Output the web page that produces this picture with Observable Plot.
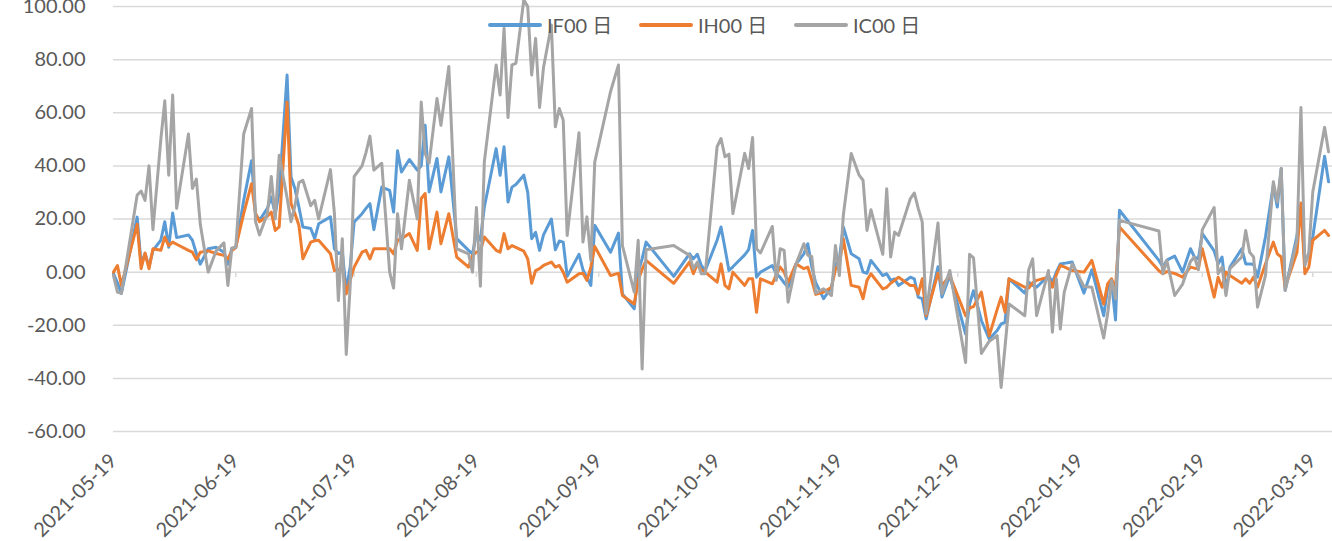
<!DOCTYPE html>
<html><head><meta charset="utf-8">
<script src="https://cdn.jsdelivr.net/npm/d3@7"></script>
<script src="https://cdn.jsdelivr.net/npm/@observablehq/plot@0.6"></script>
<style>
body{margin:0;background:#fff;}
#wrap{position:relative;width:1332px;height:541px;overflow:hidden;}
#legend{position:absolute;top:12px;left:488px;display:flex;font-family:Lato,"Noto Sans CJK SC",sans-serif;font-size:20px;color:#595959;line-height:26px;white-space:nowrap;}
.item{display:flex;align-items:center;}
.sw{width:54px;height:4px;border-radius:2px;margin-right:5px;}
</style></head><body><div id="wrap"></div>
<script>
const dates = [
"2021-05-19","2021-05-20","2021-05-21","2021-05-25","2021-05-26","2021-05-27","2021-05-28","2021-05-29","2021-05-31","2021-06-01",
"2021-06-02","2021-06-03","2021-06-04","2021-06-07","2021-06-08","2021-06-09","2021-06-10","2021-06-12","2021-06-14","2021-06-16",
"2021-06-17","2021-06-18","2021-06-19","2021-06-21","2021-06-23","2021-06-24","2021-06-25","2021-06-27","2021-06-28","2021-06-29",
"2021-06-30","2021-07-02","2021-07-03","2021-07-04","2021-07-05","2021-07-06","2021-07-08","2021-07-09","2021-07-10","2021-07-13",
"2021-07-14","2021-07-15","2021-07-16","2021-07-17","2021-07-18","2021-07-19","2021-07-21","2021-07-22","2021-07-23","2021-07-24",
"2021-07-26","2021-07-28","2021-07-29","2021-07-30","2021-07-31","2021-08-02","2021-08-04","2021-08-05","2021-08-06","2021-08-07",
"2021-08-09","2021-08-10","2021-08-12","2021-08-14","2021-08-17","2021-08-18","2021-08-19","2021-08-20","2021-08-21","2021-08-24",
"2021-08-25","2021-08-26","2021-08-27","2021-08-28","2021-08-29","2021-08-31","2021-09-01","2021-09-02","2021-09-03","2021-09-04",
"2021-09-05","2021-09-07","2021-09-08","2021-09-09","2021-09-10","2021-09-11","2021-09-14","2021-09-15","2021-09-16","2021-09-17",
"2021-09-18","2021-09-22","2021-09-24","2021-09-25","2021-09-28","2021-09-29","2021-09-30","2021-10-01","2021-10-08","2021-10-12",
"2021-10-13","2021-10-14","2021-10-15","2021-10-16","2021-10-19","2021-10-20","2021-10-21","2021-10-22","2021-10-23","2021-10-26",
"2021-10-27","2021-10-28","2021-10-29","2021-10-30","2021-11-02","2021-11-03","2021-11-04","2021-11-05","2021-11-06","2021-11-08",
"2021-11-10","2021-11-11","2021-11-12","2021-11-13","2021-11-15","2021-11-17","2021-11-18","2021-11-19","2021-11-20","2021-11-22",
"2021-11-24","2021-11-25","2021-11-26","2021-11-27","2021-11-30","2021-12-01","2021-12-02","2021-12-03","2021-12-04","2021-12-07",
"2021-12-08","2021-12-09","2021-12-10","2021-12-11","2021-12-14","2021-12-15","2021-12-17","2021-12-21","2021-12-22","2021-12-23",
"2021-12-25","2021-12-27","2021-12-29","2021-12-30","2021-12-31","2022-01-01","2022-01-05","2022-01-06","2022-01-07","2022-01-08",
"2022-01-11","2022-01-12","2022-01-13","2022-01-14","2022-01-15","2022-01-17","2022-01-20","2022-01-22","2022-01-25","2022-01-26",
"2022-01-27","2022-01-28","2022-01-29","2022-02-08","2022-02-09","2022-02-10","2022-02-12","2022-02-14","2022-02-16","2022-02-17",
"2022-02-18","2022-02-19","2022-02-22","2022-02-23","2022-02-24","2022-02-25","2022-02-26","2022-03-01","2022-03-02","2022-03-03",
"2022-03-04","2022-03-05","2022-03-07","2022-03-09","2022-03-10","2022-03-11","2022-03-12","2022-03-15","2022-03-16","2022-03-17",
"2022-03-18","2022-03-19","2022-03-22","2022-03-23"];

const if00 = [
-0.6,-4,-8,20.7,3,7,2,8.2,12,19,
9.4,22.3,13,14,12,7,3,8.8,9.4,7.5,
3,9,9.2,27,41.9,22,19.5,24,28.3,22,
30,74.2,35.8,31.4,24.5,17,16.4,12.6,18.2,20.8,
8.8,7,7.5,-6.9,2,18.9,22,24,25.8,16,
32,30.8,22.6,45.7,37.7,42.4,38.4,40,55.3,30.2,
42.8,30.2,43.4,12.6,8.2,6.9,14.5,12,24.5,46.5,
36.5,47.2,26.4,32,33,36.5,30,12.6,15,8.2,
14,20,8.4,11.7,11.3,-1.6,6.7,0.9,-2,-5,
17.6,7.5,14.7,-8.2,-13.8,0,5,11.3,-1.6,6.9,
5,6.7,2.5,0.6,12,17,9,0.6,2,6.5,
8.5,15.7,-1.9,0,2.5,-0.6,-2,-4,-5.7,3,
6.9,10.7,2,-4,-10,-5.7,3,5,17,6.9,
5,0,-0.4,4.4,-1.3,-0.6,-3.1,-2.5,-5,-1.9,
-2.5,-9.4,-10,-17.6,2,-9.4,-1.3,-23.3,-12,-7,
-18.2,-25.2,-22,-19.5,-18.9,-2.5,-7.9,-3.8,-5,-5.7,
-1.3,-3.8,0,3.1,3.3,3.8,-7.9,0.9,-16.4,-6,
-3.8,-18,23.3,4.4,1.9,4.5,6,0,8.8,5.7,
5,14.5,8,3.1,5.7,-6.9,1.9,8.8,3.1,3.1,
3,-1.9,13.2,32.7,24.5,39,-6.9,13.8,25.2,3.1,
6.9,13.2,43.6,34];

const ih00 = [
0,2.5,-5,18,1.3,7.2,1.3,8.8,8.2,13.2,
10,11.3,10.5,8.2,7.5,4.7,7.5,8,7,6.3,
5,8,9.4,22,33.3,22,19,21,22.6,15.7,
17,64,25.8,22,17.6,5,11.3,11.8,12,6.9,
0.6,0.9,1.9,-8.2,-3,1.9,7.5,8.2,5,8.8,
8.8,8.8,6.9,12,12.6,14.5,8.2,27.7,29.6,8.8,
22.6,10.7,22,5.7,1.9,6.3,7.5,8,13.2,8.2,
7.5,14.5,8.8,10,9.3,7.9,5,-4.2,0.6,1.3,
2.5,3.8,1.9,2.5,0,-3.8,-0.6,-0.4,-3.1,1.9,
9.7,-1.3,-0.4,-8.8,-12,-3,1,4.4,-4.2,3.8,
-0.6,3.1,0.9,0,-3.8,3.1,-5,-6.3,0,-5,
-2.5,-2.5,-15.1,-2.5,-4.4,-1,1.9,0,-3.8,3.1,
1.3,1.9,-3,-8.4,-7.5,-5.7,1,3,12.6,-5,
-5.7,-10,-3.1,-0.6,-6.3,-5.7,-4.2,-3.1,-1.9,-5,
-5,-8.2,-2.5,-16.4,-0.4,-5,-1.3,-16.4,-13.5,-13,
-7.5,-23.9,-14,-9.4,-15.1,-2.5,-5.7,-6,-4,-3.1,
-1.9,-5.7,-1,2.5,2,0.6,0,4.4,-12,-4.4,
-2.5,-6,17,0.5,-0.6,0.2,-0.5,-1.9,1.9,1.5,
1.3,8.8,-9.4,-1.9,-5.7,0,-1.3,-4.2,-2.5,-4.2,
-1.9,-5.7,3.1,11.3,6.9,5.7,-5.7,7.5,26,-0.6,
1.9,12,15.7,13.8];

const ic00 = [
-1.3,-7.5,-8,29,30.5,27,40,16,50,64.5,
36.5,66.7,24,52,31.5,35,18,0,8,11,
-5,9,9.4,52,61.6,19,14,22,36,20,
44,28,19,25,33.7,34.6,25,27,20,38.6,
22,-10.7,12.6,-31,-5,36,40,45,51.2,38.4,
41,0,-6,22,8.8,34.6,20,64,44.7,41,
65.4,55.3,77.4,8.8,6.9,0,24.3,-5.3,41.5,78,
66.7,91.8,58.2,78,78.6,102.5,100,74.2,88,62,
77,93,54.7,61.6,57.2,13.8,52.5,11.3,20.8,4.4,
41.5,68,78,10,-7.5,12,-36.5,8.4,10,6.3,
1.3,3.8,-0.6,-0.6,47.2,50.3,43.4,44.4,22,44.7,
39,50.7,8.8,7.2,17.2,-3.1,8.8,8.2,-11.3,3,
10.7,6.3,5.9,-7.9,-6.3,-8.8,10,-1.3,21.4,44.7,
36.5,34.6,15.7,23.5,6.7,31.4,5.7,15.1,13.8,27.7,
29.8,23.9,18.9,-15.7,18.5,-8.2,0.6,-34,6.7,5.4,
-30.6,-26,-23.9,-43.4,-28,-12,-16.4,0.9,5,-16.4,
0.6,-22.6,-2.5,-21.4,-7.5,3.1,-5.4,-5.7,-24.8,-15.7,
-3.1,-10,19.5,15.5,-0.6,4.4,-8.8,-4.5,4,5.7,
0.9,16,24.3,-0.6,1.9,-8.8,1.3,5.7,15.7,7.5,
5.7,-13.2,-1.3,34,26.4,39,-6.9,12,62,2.5,
7.5,30.2,54.5,45.3];

const seriesNames = ["IF00 日","IH00 日","IC00 日"];
const seriesColors = ["#5B9BD5","#ED7D31","#A5A5A5"];
const yTicks = [-60,-40,-20,0,20,40,60,80,100];
const xTickLabels = ["2021-05-19","2021-06-19","2021-07-19","2021-08-19","2021-09-19","2021-10-19","2021-11-19","2021-12-19","2022-01-19","2022-02-19","2022-03-19"];
const xDomain = ["2021-05-19","2022-03-24"];

const parse = d3.utcParse("%Y-%m-%d");
const rows = [];
[if00, ih00, ic00].forEach((vals, i) => vals.forEach((v, j) => rows.push({date: parse(dates[j]), value: v, series: seriesNames[i]})));
const xTickDates = xTickLabels.map(parse);

const font = 'Lato, "Noto Sans CJK SC", sans-serif';
const chart = Plot.plot({
  width: 1332, height: 541,
  marginLeft: 113, marginRight: 0, marginTop: 6, marginBottom: 110,
  style: {fontFamily: font, fontSize: "20px", color: "#595959", background: "transparent"},
  x: {type: "utc", domain: xDomain.map(parse), label: null},
  y: {domain: [-60, 100], label: null},
  color: {domain: seriesNames, range: seriesColors},
  marks: [
    Plot.gridY(yTicks, {stroke: "#D9D9D9", strokeOpacity: 1, strokeWidth: 1.5}),
    Plot.ruleX(xTickDates, {y1: 0, y2: -2, stroke: "#D9D9D9", strokeWidth: 1.5}),
    Plot.axisY(yTicks, {tickFormat: d => d.toFixed(2), tickSize: 0, tickPadding: 28, fontSize: 20, fill: "#595959", label: null}),
    Plot.axisX(xTickDates, {tickFormat: d3.utcFormat("%Y-%m-%d"), tickRotate: -45, tickSize: 0, tickPadding: 26, fontSize: 20, fill: "#595959", label: null}),
    Plot.lineY(rows, {x: "date", y: "value", stroke: "series", strokeWidth: 3, strokeLinejoin: "round", strokeLinecap: "round"})
  ]
});
const wrap = document.getElementById("wrap");
wrap.appendChild(chart);

const legend = document.createElement("div");
legend.id = "legend";
const itemWidths = [151, 155, null];
seriesNames.forEach((name, i) => {
  const it = document.createElement("div");
  it.className = "item";
  if (itemWidths[i]) it.style.width = itemWidths[i] + "px";
  const sw = document.createElement("div");
  sw.className = "sw";
  sw.style.background = seriesColors[i];
  const tx = document.createElement("span");
  tx.textContent = name;
  it.appendChild(sw); it.appendChild(tx);
  legend.appendChild(it);
});
wrap.appendChild(legend);
</script></body></html>
